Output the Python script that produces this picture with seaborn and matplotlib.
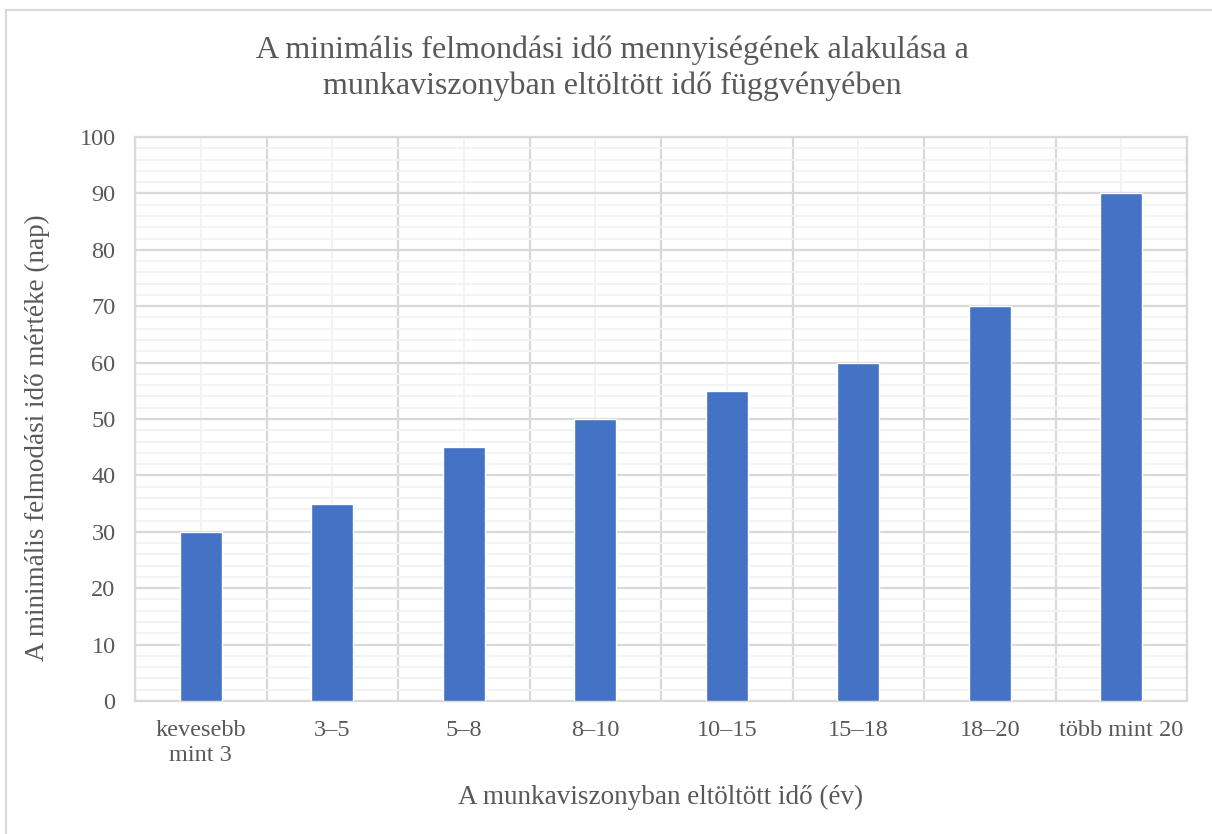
import matplotlib
matplotlib.use("Agg")
import matplotlib.pyplot as plt
import seaborn as sns
import pandas as pd
import numpy as np
from matplotlib.ticker import MultipleLocator, FixedLocator

# Data: minimum notice period (days) by length of employment (years)
categories = ["kevesebb\nmint 3", "3–5", "5–8", "8–10", "10–15", "15–18", "18–20", "több mint 20"]
notice_days = [30, 35, 45, 50, 55, 60, 70, 90]

title = "A minimális felmondási idő mennyiségének alakulása a\nmunkaviszonyban eltöltött idő függvényében"
xlabel = "A munkaviszonyban eltöltött idő (év)"
ylabel = "A minimális felmodási idő mértéke (nap)"

sns.set_theme(style="white")
plt.rcParams["font.family"] = ["Liberation Serif", "DejaVu Serif"]

text_color = "#595959"
bar_color = "#4472C4"
major_grid = "#D9D9D9"
minor_grid = "#F2F2F2"

df = pd.DataFrame({"category": categories, "days": notice_days})

fig = plt.figure(figsize=(12.12, 8.34), dpi=100)
ax = fig.add_axes([0.1114, 0.1595, 0.868, 0.6762])

sns.barplot(data=df, x="category", y="days", color=bar_color, width=0.32,
            saturation=1, ax=ax, zorder=3)

ax.set_xlim(-0.5, len(categories) - 0.5)
ax.set_ylim(0, 100)

# Horizontal grid: major every 10, minor every 2
ax.yaxis.set_major_locator(MultipleLocator(10))
ax.yaxis.set_minor_locator(MultipleLocator(2))
# Vertical grid: major between categories, minor at category centres
ax.set_xticks(range(len(categories)))
ax.set_xticklabels(categories)
ax.xaxis.set_minor_locator(FixedLocator(np.arange(-0.5, len(categories), 1.0)))

ax.grid(which="major", axis="y", color=major_grid, linewidth=1.6, zorder=0)
ax.grid(which="minor", axis="y", color=minor_grid, linewidth=1.3, zorder=0)
ax.grid(which="minor", axis="x", color=major_grid, linewidth=1.6, zorder=0)
ax.grid(which="major", axis="x", color=minor_grid, linewidth=1.3, zorder=0)
ax.set_axisbelow(True)

for side in ["left", "right", "top", "bottom"]:
    ax.spines[side].set_color(major_grid)
    ax.spines[side].set_linewidth(1.6)

ax.tick_params(which="both", length=0)
ax.tick_params(axis="y", labelsize=17.5, labelcolor=text_color, pad=14)
ax.tick_params(axis="x", labelsize=17.5, labelcolor=text_color, pad=14)
for lbl in ax.get_xticklabels():
    lbl.set_linespacing(1.25)

ax.set_xlabel("")
ax.set_ylabel("")
fig.text(661 / 1212, 1 - 797 / 834, xlabel, ha="center", va="center",
         fontsize=19.5, color=text_color)
fig.text(37 / 1212, 1 - 438 / 834, ylabel, ha="center", va="center",
         rotation=90, fontsize=19.5, color=text_color)

fig.text(0.505, 1 - 68 / 834, title, ha="center", va="center", fontsize=23,
         color=text_color, linespacing=1.3)

# Chart area frame
fig.add_artist(plt.Rectangle((6 / 1212, -0.05), 1.1, 1 - 10 / 834 + 0.05,
                             transform=fig.transFigure, fill=False,
                             edgecolor=major_grid, linewidth=1.5))

fig.savefig("out.png", dpi=100, facecolor="white")
